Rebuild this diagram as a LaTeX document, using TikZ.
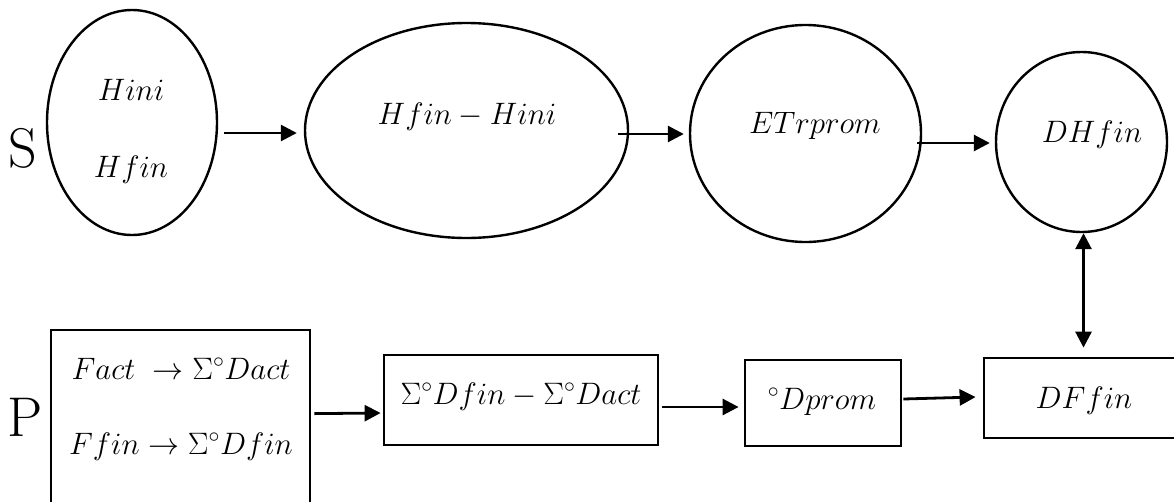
\RequirePackage{fix-cm}
\documentclass[tikz,border=0pt]{standalone}
\usetikzlibrary{shapes.geometric,arrows.meta}
\tikzset{
  oval/.style={draw,ellipse,line width=2.4pt,inner sep=0pt},
  boxnode/.style={draw,rectangle,line width=2.8pt,inner sep=0pt},
  mtext/.style={anchor=base,inner sep=0pt,font=\fontsize{31}{37}\selectfont},
  rowlabel/.style={anchor=base,inner sep=0pt,font=\fontsize{56}{60}\selectfont},
  arr/.style={line width=2.8pt,-{Triangle[length=16pt,width=16pt]}},
  darr/.style={line width=2.8pt,{Triangle[length=16pt,width=16pt]}-{Triangle[length=16pt,width=16pt]}}
}
\begin{document}
\begin{tikzpicture}[x=1pt,y=-1pt]
\useasboundingbox (0,0) rectangle (1174,501);
\clip (0,0) rectangle (1174,501);
% row labels
\node[rowlabel] (S) at (23,167) {S};
\node[rowlabel] (P) at (25,436) {P};
% top row ellipses
\node[oval,minimum width=170pt,minimum height=225pt] (e1) at (132,122.5) {};
\node[oval,minimum width=323pt,minimum height=215pt] (e2) at (466.5,130.5) {};
\node[oval,minimum width=231pt,minimum height=217pt] (e3) at (805.5,133.5) {};
\node[oval,minimum width=171pt,minimum height=180pt] (e4) at (1081.5,142) {};
\node[mtext] (t1a) at (131,100) {$Hini$};
\node[mtext] (t1b) at (131,177) {$Hfin$};
\node[mtext] (t2) at (467,124) {$Hfin-Hini$};
\node[mtext] (t3) at (815,133) {$ETrprom$};
\node[mtext] (t4) at (1092,142) {$DHfin$};
% bottom row boxes
\node[boxnode,minimum width=259pt,minimum height=210pt] (pbox) at (180.5,435) {};
\node[boxnode,minimum width=274pt,minimum height=90pt] (sbox) at (521,400) {};
\node[boxnode,minimum width=156pt,minimum height=86pt] (dbox) at (823,403) {};
\node[boxnode,minimum width=206pt,minimum height=80pt] (fbox) at (1087,398) {};
\node[mtext] (b1a) at (181,379) {$Fact\;\rightarrow\Sigma^{\circ}Dact$};
\node[mtext] (b1b) at (181,454) {$Ffin\rightarrow\Sigma^{\circ}Dfin$};
\node[mtext] (b2) at (521,404) {$\Sigma^{\circ}Dfin-\Sigma^{\circ}Dact$};
\node[mtext] (b3) at (822,409) {$^{\circ}Dprom$};
\node[mtext] (b4) at (1084,408) {$DFfin$};
% connectors top
\draw[arr] ([shift={(6,10.5)}]e1.east) -- ([shift={(-7,2.5)}]e2.west);
\draw[arr] ([shift={(-11,3.5)}]e2.east) -- ([shift={(-5,0.5)}]e3.west);
\draw[arr] ([shift={(-5,9.5)}]e3.east) -- ([shift={(-5,1)}]e4.west);
% vertical double arrow
\coordinate (dtop) at (e4.south |- fbox.north);
\draw[darr] ([xshift=2pt]e4.south) -- ([xshift=2pt,yshift=9pt]dtop);
% connectors bottom
\draw[arr] ([shift={(3,85)}]pbox.north east) -- ([shift={(-2,13)}]sbox.west);
\draw[arr] ([shift={(3,7)}]sbox.east) -- ([shift={(-5,4)}]dbox.west);
\draw[arr] ([shift={(1,-4)}]dbox.east) -- ([shift={(-7,-1)}]fbox.west);
\end{tikzpicture}
\end{document}
